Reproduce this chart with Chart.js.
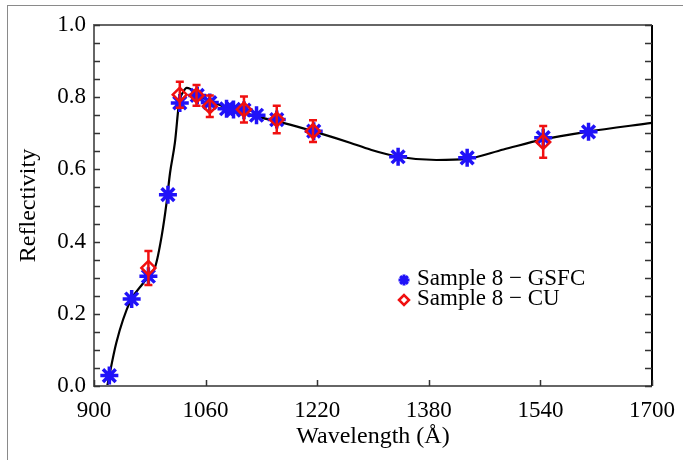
<!DOCTYPE html>
<html>
<head>
<meta charset="utf-8">
<script src="https://cdn.jsdelivr.net/npm/chart.js@4.4.0/dist/chart.umd.min.js"></script>
<style>
  html, body { margin: 0; padding: 0; background: #fff; }
  #wrap { position: relative; width: 683px; height: 460px; }
  #frame { position: absolute; left: 7px; top: 5px; right: 0; bottom: 0;
           border-top: 1.5px solid #8a8a8a; border-left: 1.5px solid #8a8a8a; pointer-events: none; }
</style>
</head>
<body>
<div id="wrap">
  <canvas id="c" width="683" height="460"></canvas>
  <div id="frame"></div>
</div>
<script>
// fitted curve
const fitWave = [919, 932, 952, 971, 988, 997, 1004, 1009, 1016, 1022, 1028, 1033, 1038, 1050, 1085, 1133, 1181, 1229, 1267, 1296, 1336, 1391, 1434, 1487, 1544, 1606, 1700];
const fitRefl = [0.0, 0.12, 0.235, 0.286, 0.332, 0.415, 0.507, 0.59, 0.674, 0.784, 0.815, 0.826, 0.823, 0.805, 0.775, 0.747, 0.724, 0.697, 0.674, 0.655, 0.635, 0.626, 0.629, 0.655, 0.683, 0.704, 0.729];

// Sample 8 - GSFC
const gsfcWave = [922, 954, 978, 1006, 1023, 1048, 1066, 1090, 1100, 1115, 1133, 1162, 1215, 1336, 1435, 1544, 1609];
const gsfcRefl = [0.029, 0.241, 0.304, 0.530, 0.784, 0.805, 0.785, 0.768, 0.766, 0.764, 0.750, 0.738, 0.706, 0.635, 0.632, 0.688, 0.704];

// Sample 8 - CU, with error bars
const cuWave = [978, 1023, 1047, 1066, 1115, 1162, 1214, 1544];
const cuRefl = [0.327, 0.807, 0.805, 0.775, 0.766, 0.738, 0.706, 0.676];
const cuErr  = [0.047, 0.036, 0.029, 0.030, 0.036, 0.038, 0.030, 0.044];

const xTicks = [900, 1060, 1220, 1380, 1540, 1700];
const yTicks = [0.0, 0.2, 0.4, 0.6, 0.8, 1.0];
const yMinorStep = 0.05;
const seriesLabels = ['Sample 8 \u2212 GSFC', 'Sample 8 \u2212 CU'];

const BLUE = '#2012f8';
const RED = '#f01010';
const FONT = "'Liberation Serif', 'Times New Roman', serif";

function xy(xs, ys) { return xs.map((v, i) => ({ x: v, y: ys[i] })); }

// axes box, inward ticks, error bars, legend
const decor = {
  id: 'decor',
  afterDatasetsDraw(chart) {
    const { ctx, scales: { x, y } } = chart;
    ctx.save();
    ctx.strokeStyle = RED;
    ctx.lineWidth = 2.5;
    cuWave.forEach((w, i) => {
      const px = x.getPixelForValue(w);
      const t = y.getPixelForValue(cuRefl[i] + cuErr[i]);
      const b = y.getPixelForValue(cuRefl[i] - cuErr[i]);
      ctx.beginPath();
      ctx.moveTo(px, t); ctx.lineTo(px, b);
      ctx.moveTo(px - 4, t); ctx.lineTo(px + 4, t);
      ctx.moveTo(px - 4, b); ctx.lineTo(px + 4, b);
      ctx.stroke();
    });
    ctx.restore();
  },
  afterDraw(chart) {
    const { ctx, chartArea: a, scales: { x, y } } = chart;
    ctx.save();
    ctx.lineWidth = 2;
    ctx.strokeStyle = '#666';
    ctx.beginPath();
    ctx.moveTo(a.right, a.top); ctx.lineTo(a.left, a.top);
    ctx.lineTo(a.left, a.bottom); ctx.lineTo(a.right, a.bottom);
    ctx.stroke();
    ctx.strokeStyle = '#000';
    ctx.beginPath();
    ctx.moveTo(a.right, a.top); ctx.lineTo(a.right, a.bottom);
    ctx.stroke();

    // ticks
    ctx.lineWidth = 1.5;
    ctx.strokeStyle = '#333';
    ctx.beginPath();
    for (let v = 0; v <= 1.0001; v += yMinorStep) {
      const py = Math.round(y.getPixelForValue(v)) + 0.5;
      ctx.moveTo(a.left, py); ctx.lineTo(a.left + 6, py);
      ctx.moveTo(a.right, py); ctx.lineTo(a.right - 7, py);
    }
    xTicks.forEach(v => {
      const px = Math.round(x.getPixelForValue(v)) + 0.5;
      ctx.moveTo(px, a.bottom); ctx.lineTo(px, a.bottom - 6);
    });
    ctx.stroke();

    // legend
    const lx = 404, ly = 280, gap = 20;
    ctx.strokeStyle = BLUE;
    ctx.lineWidth = 3;
    ctx.beginPath();
    const r = 5.5;
    ctx.moveTo(lx - r, ly); ctx.lineTo(lx + r, ly);
    ctx.moveTo(lx, ly - r); ctx.lineTo(lx, ly + r);
    ctx.moveTo(lx - r * 0.7, ly - r * 0.7); ctx.lineTo(lx + r * 0.7, ly + r * 0.7);
    ctx.moveTo(lx - r * 0.7, ly + r * 0.7); ctx.lineTo(lx + r * 0.7, ly - r * 0.7);
    ctx.stroke();
    ctx.strokeStyle = RED;
    ctx.lineWidth = 2.5;
    ctx.beginPath();
    ctx.moveTo(lx - 5, ly + gap); ctx.lineTo(lx, ly + gap - 5);
    ctx.lineTo(lx + 5, ly + gap); ctx.lineTo(lx, ly + gap + 5);
    ctx.closePath();
    ctx.stroke();
    ctx.fillStyle = '#000';
    ctx.font = '23px ' + FONT;
    ctx.textBaseline = 'middle';
    ctx.fillText(seriesLabels[0], lx + 13, ly - 1);
    ctx.fillText(seriesLabels[1], lx + 13, ly + gap - 1);
    ctx.restore();
  }
};

const chart = new Chart(document.getElementById('c'), {
  type: 'scatter',
  data: {
    datasets: [
      {
        label: seriesLabels[1],
        data: xy(cuWave, cuRefl),
        order: 0,
        showLine: false,
        pointStyle: 'rectRot',
        pointRadius: 7,
        pointBorderWidth: 2.5,
        pointBorderColor: RED,
        pointBackgroundColor: 'rgba(0,0,0,0)',
      },
      {
        label: seriesLabels[0],
        data: xy(gsfcWave, gsfcRefl),
        order: 1,
        showLine: false,
        pointStyle: 'star',
        pointRadius: 9,
        pointBorderWidth: 3.5,
        pointBorderColor: BLUE,
        pointBackgroundColor: BLUE,
      },
      {
        label: 'fit',
        data: xy(fitWave, fitRefl),
        order: 2,
        showLine: true,
        borderColor: '#000',
        borderWidth: 2.2,
        pointRadius: 0,
        cubicInterpolationMode: 'monotone',
      },
    ],
  },
  options: {
    responsive: false,
    animation: false,
    layout: { padding: { top: 25, right: 31, left: 0, bottom: 0 } },
    plugins: {
      legend: { display: false },
      tooltip: { enabled: false },
    },
    scales: {
      x: {
        type: 'linear',
        min: 900,
        max: 1700,
        afterBuildTicks: s => { s.ticks = xTicks.map(v => ({ value: v })); },
        afterFit: s => { s.height = 74; s.paddingLeft = 0; s.paddingRight = 0; },
        grid: { display: false, drawTicks: false },
        border: { display: false },
        ticks: {
          autoSkip: false,
          maxRotation: 0,
          padding: 11,
          color: '#000',
          font: { family: FONT, size: 23 },
          callback: v => String(v),
        },
        title: {
          display: true,
          text: 'Wavelength (\u00c5)',
          color: '#000',
          font: { family: FONT, size: 24 },
          padding: { top: 0, bottom: 9 },
        },
      },
      y: {
        min: 0,
        max: 1,
        afterBuildTicks: s => { s.ticks = yTicks.map(v => ({ value: v })); },
        afterFit: s => { s.width = 94; s.paddingTop = 0; s.paddingBottom = 0; },
        grid: { display: false, drawTicks: false },
        border: { display: false },
        ticks: {
          padding: 8,
          color: '#000',
          font: { family: FONT, size: 23 },
          callback: v => Number(v).toFixed(1),
        },
        title: {
          display: true,
          text: 'Reflectivity',
          color: '#000',
          font: { family: FONT, size: 24 },
          padding: { top: 14, bottom: 0 },
        },
      },
    },
  },
  plugins: [decor],
});
</script>
</body>
</html>
